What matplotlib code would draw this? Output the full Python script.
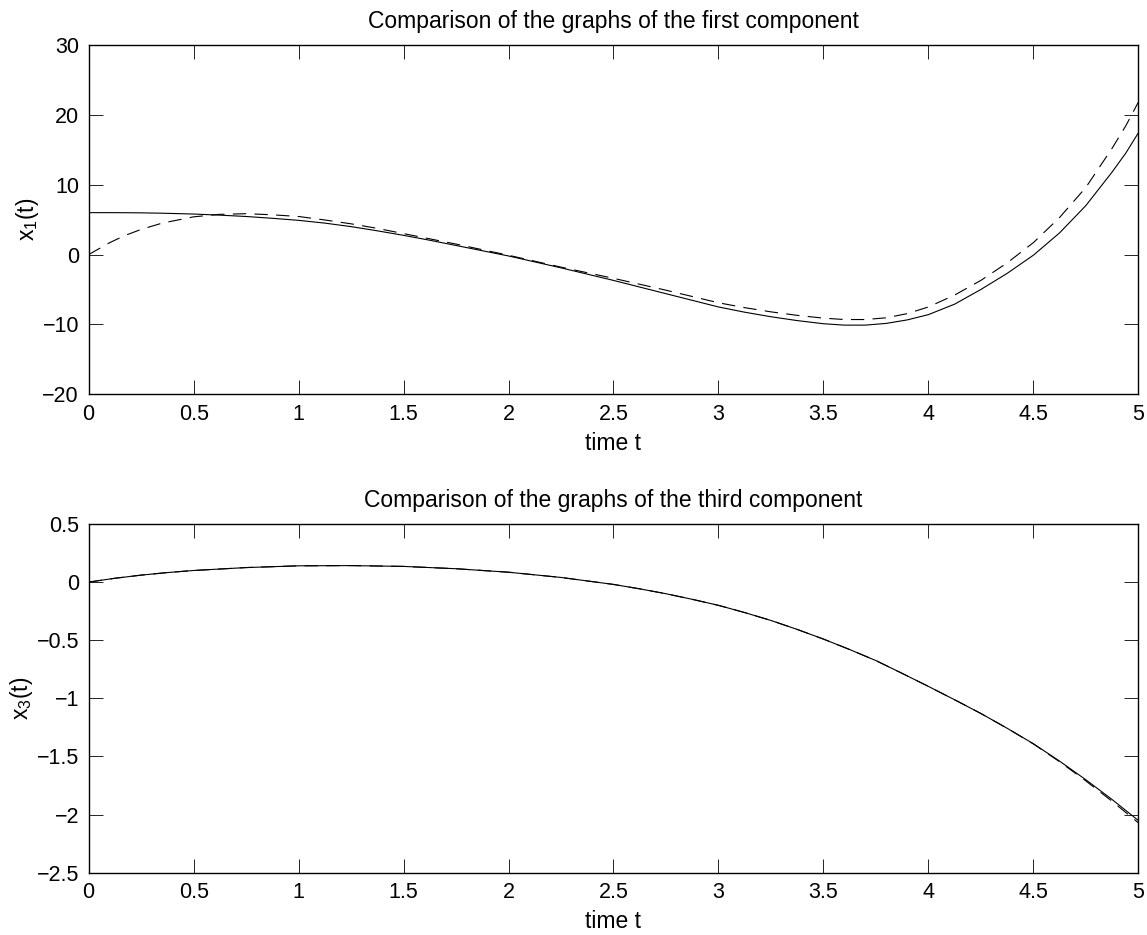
import numpy as np
import matplotlib
matplotlib.use("Agg")
import matplotlib.pyplot as plt

plt.rcParams['font.family'] = ['Liberation Sans', 'DejaVu Sans']
plt.rcParams['mathtext.default'] = 'regular'

# first component (solid = exact, dashed = approximation)
t1 = [0, 0.05, 0.1, 0.17, 0.25, 0.35, 0.5, 0.62, 0.75, 0.87, 1.0, 1.125, 1.25, 1.375,
      1.5, 1.625, 1.75, 1.875, 2.0, 2.125, 2.25, 2.375, 2.5, 2.625, 2.75, 2.875,
      3.0, 3.125, 3.25, 3.375, 3.5, 3.6, 3.7, 3.8, 3.9, 4.0, 4.125, 4.25, 4.375,
      4.5, 4.625, 4.75, 4.875, 4.94, 5.0]
x1_solid = [6.0, 6.0, 6.0, 5.99, 5.97, 5.92, 5.8, 5.65, 5.45, 5.2, 4.9, 4.5, 4.0, 3.4,
            2.75, 2.05, 1.3, 0.55, -0.2, -1.05, -1.9, -2.8, -3.7, -4.65, -5.6, -6.55,
            -7.5, -8.25, -8.9, -9.45, -9.9, -10.1, -10.1, -9.85, -9.35, -8.6, -7.1, -5.0, -2.7,
            -0.1, 3.1, 7.0, 11.8, 14.5, 17.4]
x1_dash = [0.0, 0.85, 1.7, 2.7, 3.6, 4.5, 5.4, 5.75, 5.85, 5.7, 5.45, 4.95, 4.4, 3.75,
           3.0, 2.25, 1.5, 0.7, -0.1, -0.95, -1.8, -2.6, -3.4, -4.25, -5.1, -6.0,
           -6.9, -7.6, -8.2, -8.7, -9.1, -9.3, -9.3, -9.05, -8.45, -7.5, -5.8, -3.7, -1.2,
           1.7, 5.3, 9.6, 15.2, 18.4, 21.8]

# third component
t3 = [0, 0.125, 0.25, 0.375, 0.5, 0.75, 1.0, 1.25, 1.5, 1.75, 2.0, 2.25, 2.5, 2.625,
      2.75, 2.875, 3.0, 3.125, 3.25, 3.375, 3.5, 3.625, 3.75, 3.875, 4.0, 4.125,
      4.25, 4.375, 4.5, 4.625, 4.75, 4.875, 5.0]
x3_solid = [0.0, 0.033, 0.06, 0.082, 0.10, 0.125, 0.14, 0.142, 0.135, 0.115, 0.085, 0.04,
            -0.02, -0.058, -0.1, -0.148, -0.2, -0.262, -0.33, -0.407, -0.49, -0.58,
            -0.675, -0.785, -0.897, -1.012, -1.13, -1.257, -1.39, -1.54, -1.7, -1.87, -2.05]
x3_dash = [0.0, 0.033, 0.06, 0.082, 0.10, 0.125, 0.14, 0.142, 0.135, 0.115, 0.085, 0.04,
           -0.02, -0.058, -0.1, -0.148, -0.2, -0.262, -0.33, -0.407, -0.49, -0.58,
           -0.675, -0.785, -0.897, -1.012, -1.13, -1.257, -1.392, -1.545, -1.71, -1.885, -2.07]

xticks = [0, 0.5, 1, 1.5, 2, 2.5, 3, 3.5, 4, 4.5, 5]
xticklabels = ['0', '0.5', '1', '1.5', '2', '2.5', '3', '3.5', '4', '4.5', '5']

fig = plt.figure(figsize=(11.47, 9.35), dpi=100)
ax1 = fig.add_axes([0.0773, 0.5783, 0.9151, 0.3736])
ax2 = fig.add_axes([0.0773, 0.0666, 0.9151, 0.3730])

def style(ax):
    ax.set_xlim(0, 5)
    ax.set_xticks(xticks)
    ax.set_xticklabels(xticklabels)
    ax.tick_params(direction='in', length=10, width=0.6, top=True, right=True,
                   labelsize=15.5, pad=7)
    for s in ax.spines.values():
        s.set_linewidth(1.0)

ax1.plot(t1, x1_solid, color='black', lw=0.8)
ax1.plot(t1, x1_dash, color='black', lw=0.8, dashes=(12, 7.5))
style(ax1)
ax1.set_ylim(-20, 30)
ax1.set_yticks([-20, -10, 0, 10, 20, 30])
ax1.set_title('Comparison of the graphs of the first component', fontsize=16.5, pad=12)
ax1.set_xlabel('time t', fontsize=16.5, labelpad=5)
ax1.set_ylabel('x$_1$(t)', fontsize=16.5, labelpad=1)

ax2.plot(t3, x3_solid, color='black', lw=0.8)
ax2.plot(t3, x3_dash, color='black', lw=0.8, dashes=(12, 7.5))
style(ax2)
ax2.set_ylim(-2.5, 0.5)
ax2.set_yticks([-2.5, -2, -1.5, -1, -0.5, 0, 0.5])
ax2.set_yticklabels(['\u22122.5', '\u22122', '\u22121.5', '\u22121', '\u22120.5', '0', '0.5'])
ax2.set_title('Comparison of the graphs of the third component', fontsize=16.5, pad=12)
ax2.set_xlabel('time t', fontsize=16.5, labelpad=5)
ax2.set_ylabel('x$_3$(t)', fontsize=16.5, labelpad=1)

fig.savefig('out.png', dpi=100)
